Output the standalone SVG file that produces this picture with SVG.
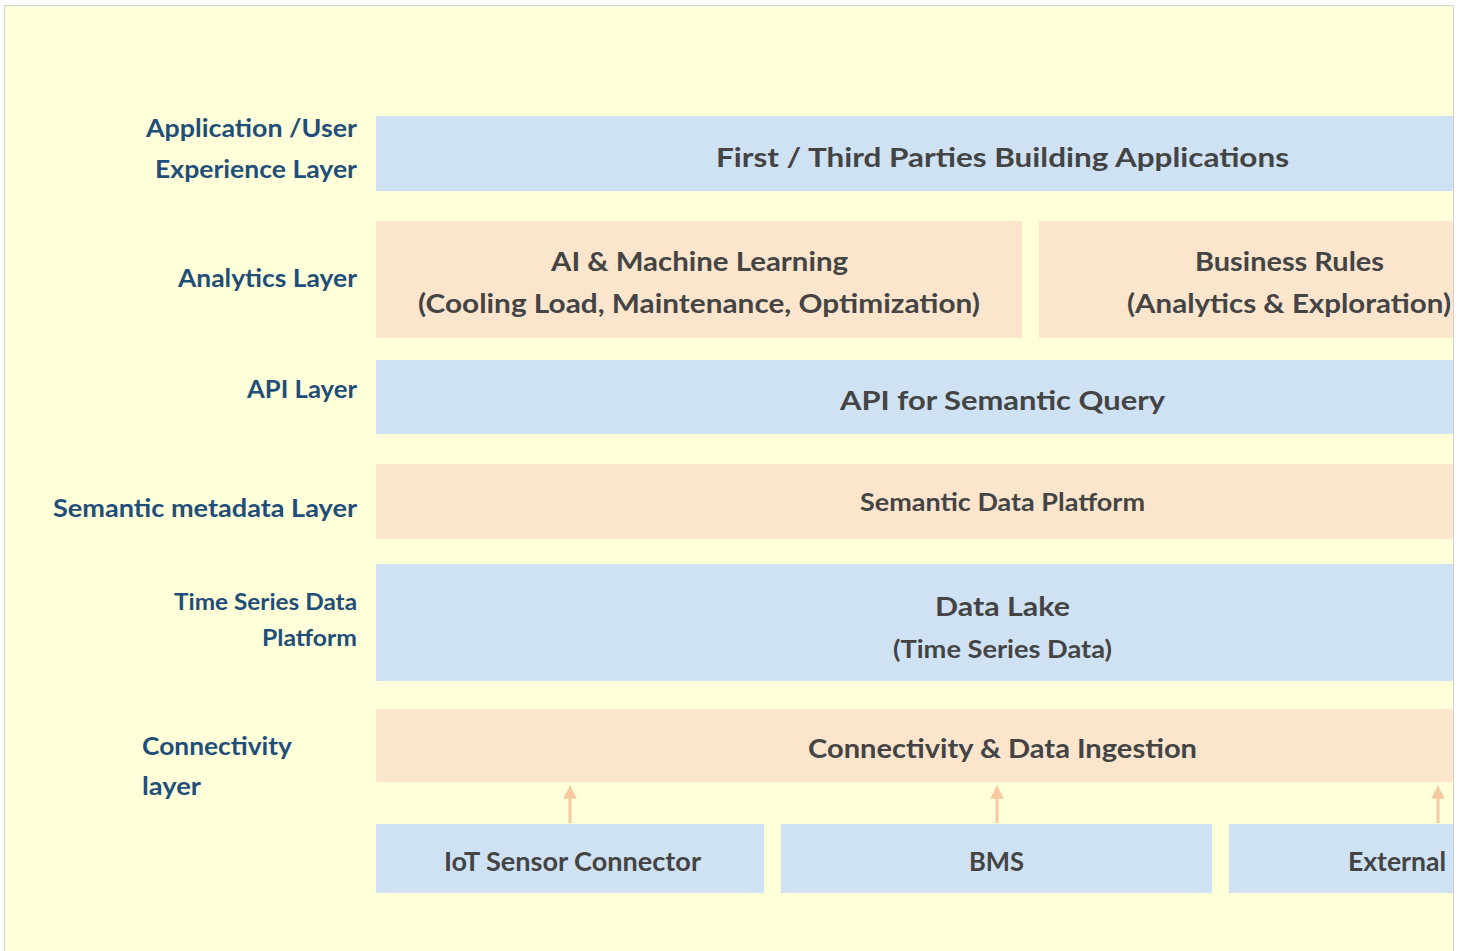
<svg xmlns="http://www.w3.org/2000/svg" width="1467" height="951" viewBox="0 0 1467 951">
  <style>
    .blue { fill: #cfe2f3; }
    .peach { fill: #fce5cd; }
    .box-text { font-family: Lato, "Open Sans", "Liberation Sans", sans-serif; font-weight: 700; fill: #444444; text-anchor: middle; }
    .label { font-family: Lato, "Open Sans", "Liberation Sans", sans-serif; font-weight: 700; fill: #1f4e79; text-anchor: end; }
    .arrow { stroke: #f8c79d; stroke-width: 3; fill: none; }
  </style>
  <defs>
    <marker id="head" viewBox="0 0 10 10" refX="5" refY="5" markerWidth="4.5" markerHeight="4.5" orient="auto">
      <path d="M0,0 L10,5 L0,10 z" fill="#f8c79d"/>
    </marker>
  </defs>

  <!-- page background -->
  <rect x="4.5" y="5.5" width="1449" height="960" fill="#ffffda" stroke="#d0d0d0" stroke-width="1"/>

  <!-- layer labels -->
  <g id="layer-labels">
    <text class="label" x="357" y="137" font-size="25" textLength="211" lengthAdjust="spacingAndGlyphs">Application /User</text>
    <text class="label" x="357" y="178" font-size="25" textLength="202" lengthAdjust="spacingAndGlyphs">Experience Layer</text>
    <text class="label" x="357" y="287" font-size="25" textLength="179" lengthAdjust="spacingAndGlyphs">Analytics Layer</text>
    <text class="label" x="357" y="398" font-size="25" textLength="110" lengthAdjust="spacingAndGlyphs">API Layer</text>
    <text class="label" x="357" y="517" font-size="25" textLength="304" lengthAdjust="spacingAndGlyphs">Semantic metadata Layer</text>
    <text class="label" x="357" y="610" font-size="22" textLength="183" lengthAdjust="spacingAndGlyphs">Time Series Data</text>
    <text class="label" x="357" y="646" font-size="22" textLength="95" lengthAdjust="spacingAndGlyphs">Platform</text>
    <text class="label" x="142" y="755" font-size="25" text-anchor="start" style="text-anchor:start" textLength="150" lengthAdjust="spacingAndGlyphs">Connectivity</text>
    <text class="label" x="142" y="795" font-size="25" style="text-anchor:start" textLength="59" lengthAdjust="spacingAndGlyphs">layer</text>
  </g>

  <g id="applications">
    <rect class="blue" x="376" y="116" width="1077" height="75"/>
    <text class="box-text" x="1002.5" y="167" font-size="27" textLength="573" lengthAdjust="spacingAndGlyphs">First / Third Parties Building Applications</text>
  </g>

  <g id="ai-ml">
    <rect class="peach" x="376" y="221" width="646" height="117"/>
    <text class="box-text" x="699.5" y="271" font-size="26" textLength="297" lengthAdjust="spacingAndGlyphs">AI &amp; Machine Learning</text>
    <text class="box-text" x="699" y="313" font-size="26" textLength="562" lengthAdjust="spacingAndGlyphs">(Cooling Load, Maintenance, Optimization)</text>
  </g>

  <g id="business-rules">
    <rect class="peach" x="1039" y="221" width="414" height="117"/>
    <text class="box-text" x="1289.5" y="271" font-size="26" textLength="189" lengthAdjust="spacingAndGlyphs">Business Rules</text>
    <text class="box-text" x="1289" y="313" font-size="26" textLength="324" lengthAdjust="spacingAndGlyphs">(Analytics &amp; Exploration)</text>
  </g>

  <g id="api">
    <rect class="blue" x="376" y="360" width="1077" height="74"/>
    <text class="box-text" x="1002.5" y="410" font-size="27" textLength="325" lengthAdjust="spacingAndGlyphs">API for Semantic Query</text>
  </g>

  <g id="semantic-platform">
    <rect class="peach" x="376" y="464" width="1077" height="75"/>
    <text class="box-text" x="1002.5" y="511" font-size="25" textLength="285" lengthAdjust="spacingAndGlyphs">Semantic Data Platform</text>
  </g>

  <g id="data-lake">
    <rect class="blue" x="376" y="564" width="1077" height="117"/>
    <text class="box-text" x="1002.5" y="616" font-size="27" textLength="135" lengthAdjust="spacingAndGlyphs">Data Lake</text>
    <text class="box-text" x="1002.5" y="658" font-size="25" textLength="219" lengthAdjust="spacingAndGlyphs">(Time Series Data)</text>
  </g>

  <g id="ingestion">
    <rect class="peach" x="376" y="709" width="1077" height="73"/>
    <text class="box-text" x="1002.5" y="758" font-size="27" textLength="389" lengthAdjust="spacingAndGlyphs">Connectivity &amp; Data Ingestion</text>
  </g>

  <g id="iot-sensor">
    <rect class="blue" x="376" y="824" width="388" height="69"/>
    <text class="box-text" x="572.5" y="871" font-size="26" textLength="257" lengthAdjust="spacingAndGlyphs">IoT Sensor Connector</text>
  </g>

  <g id="bms">
    <rect class="blue" x="781" y="824" width="431" height="69"/>
    <text class="box-text" x="996.5" y="871" font-size="26" textLength="55" lengthAdjust="spacingAndGlyphs">BMS</text>
  </g>

  <g id="external">
    <rect class="blue" x="1229" y="824" width="224" height="69"/>
    <text class="box-text" x="1397" y="871" font-size="26" textLength="98" lengthAdjust="spacingAndGlyphs">External</text>
  </g>

  <g id="connectors">
    <line class="arrow" x1="570" y1="823" x2="570" y2="792" marker-end="url(#head)"/>
    <line class="arrow" x1="997" y1="823" x2="997" y2="792" marker-end="url(#head)"/>
    <line class="arrow" x1="1438" y1="823" x2="1438" y2="792" marker-end="url(#head)"/>
  </g>
</svg>
